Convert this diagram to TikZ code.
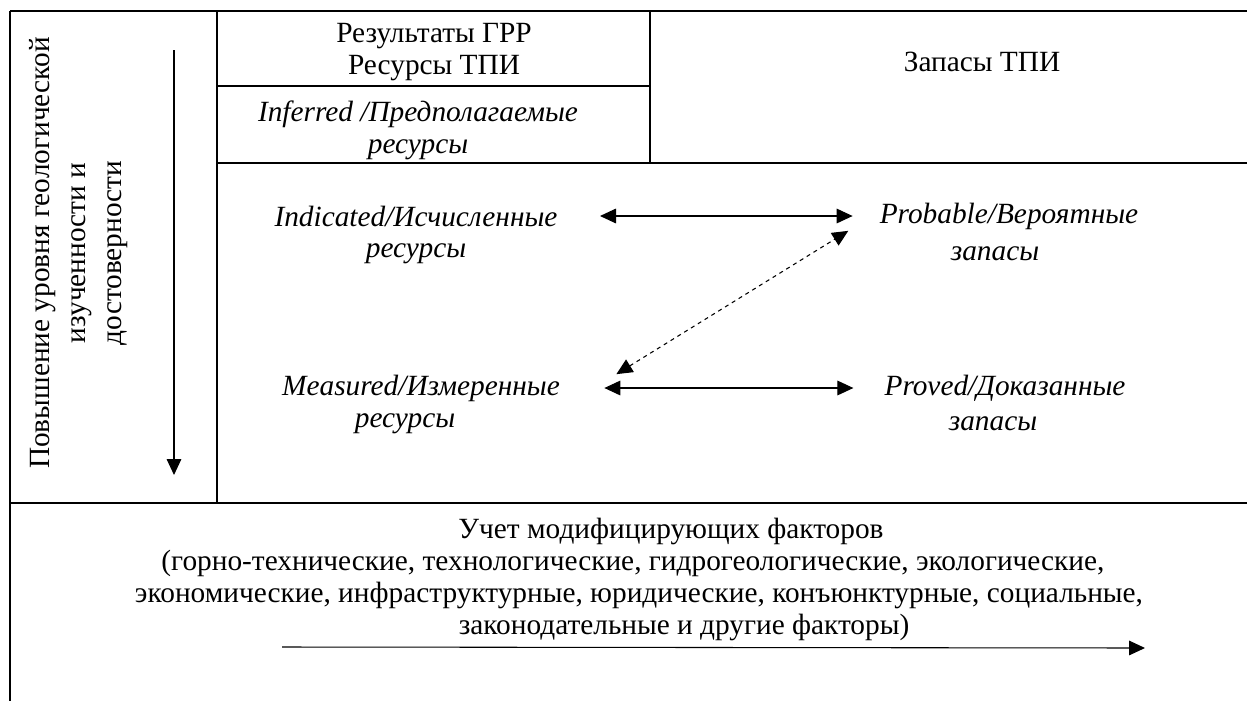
\documentclass[tikz,border=0pt]{standalone}
\usepackage{fontspec}
\setmainfont{Liberation Serif}
\usetikzlibrary{arrows.meta}
\tikzset{
  txt/.style={inner sep=0pt,font=\fontsize{22}{24}\selectfont},
  ittxt/.style={inner sep=0pt,font=\fontsize{22}{24}\selectfont\itshape},
  tip/.style={-{Triangle[length=12pt,width=11pt]}},
  bitip/.style={{Triangle[length=12pt,width=11pt]}-{Triangle[length=12pt,width=11pt]}},
  frame/.style={line width=1.6pt},
}
\begin{document}
\begin{tikzpicture}[x=0.75pt,y=-0.75pt,line width=0.8pt]
\useasboundingbox (0,0) rectangle (1247,701);
% table lines
\draw [frame] (10,11) -- (1247,11);
\draw [frame] (10,11) -- (10,701);
\draw [frame] (217,11) -- (217,503);
\draw [frame] (10,503) -- (1247,503);
\draw [frame] (650,11) -- (650,163);
\draw [frame] (217,163) -- (1247,163);
\draw [line width=1pt] (217,86) -- (650,86);
% left column
\node [txt,rotate=90,align=center,font=\fontsize{22}{27}\selectfont] (level) at (79,253)
  {Повышение уровня геологической\\изученности и\\достоверности};
\coordinate (lvtop) at (174,50);
\coordinate (lvbot) at (174,475);
\draw [tip] (lvtop) -- (lvbot);
% header
\node [txt,align=center] (grr) at (434,52) {Результаты ГРР\\Ресурсы ТПИ};
\node [ittxt,align=center] (inf) at (418,130) {Inferred /Предполагаемые\\ресурсы};
\node [txt] (zap) at (982,62) {Запасы ТПИ};
% resources
\node [ittxt] (ind) at (416,216) {Indicated/Исчисленные};
\node [ittxt] (indr) at (416,254) {ресурсы};
\node [ittxt] (meas) at (421,388) {Measured/Измеренные};
\node [ittxt] (measr) at (405,424) {ресурсы};
% reserves
\node [ittxt] (prob) at (1009,216) {Probable/Вероятные};
\node [ittxt] (probr) at (995,254) {запасы};
\node [ittxt] (prov) at (1005,388) {Proved/Доказанные};
\node [ittxt] (provr) at (993,424) {запасы};
% links
\draw [bitip,shorten <=31.5pt,shorten >=20pt] (ind) -- (prob);
\draw [bitip,shorten <=33pt,shorten >=23pt] (meas) -- (prov);
\draw [bitip,dashed] ([shift={(56,0)}]meas.north east) -- ([shift={(-31,1)}]prob.south west);
% modifying factors
\node [txt] (mod1) at (671,531) {Учет модифицирующих факторов};
\node [txt] (mod2) at (633,563) {(горно-технические, технологические, гидрогеологические, экологические,};
\node [txt] (mod3) at (639,595) {экономические, инфраструктурные, юридические, конъюнктурные, социальные,};
\node [txt] (mod4) at (684,627) {законодательные и другие факторы)};
\coordinate (fstart) at (282,647);
\coordinate (fend) at (1145,648);
\draw [tip] (fstart) -- (fend);
\end{tikzpicture}
\end{document}
